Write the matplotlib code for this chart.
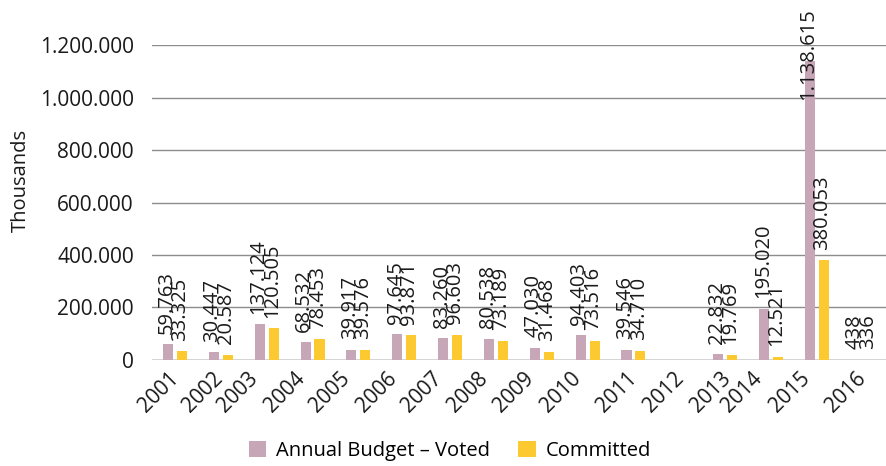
import numpy as np
import matplotlib
matplotlib.use("Agg")
import matplotlib.pyplot as plt
from matplotlib.transforms import ScaledTranslation, blended_transform_factory

plt.rcParams['font.family'] = ['Open Sans', 'DejaVu Sans']

years = ['2001', '2002', '2003', '2004', '2005', '2006', '2007', '2008',
         '2009', '2010', '2011', '2012', '2013', '2014', '2015', '2016']
voted = [59763, 30447, 137124, 68532, 39917, 97645, 83260, 80538,
         47030, 94403, 39546, np.nan, 22832, 195020, 1138615, 438]
committed = [33325, 20587, 120505, 78453, 39576, 93871, 96603, 73189,
             31468, 73516, 34710, np.nan, 19769, 12521, 380053, 336]
y_ticks = [0, 200000, 400000, 600000, 800000, 1000000, 1200000]

VOTED_COLOR = '#c6a6b7'
COMMITTED_COLOR = '#fdc930'
GRID_COLOR = '#8c8c8c'
TEXT_COLOR = '#1a1a1a'
VALUE_FS = 14.5

# small horizontal nudges (pixels) for the slanted year labels
label_nudge_px = [-7, -9, -19, -18, -19, -18, -19, -19, -18, -17, -7, -6, -5, -20, -17, -7]


def fmt(v):
    return f"{int(v):,}".replace(',', '.')


fig = plt.figure(figsize=(8.86, 4.66), dpi=100)
ax = fig.add_axes([0.1716, 0.2275, 0.828, 0.6759])

x = np.arange(len(years))
w = 0.22
off = 0.152
ax.bar(x - off, voted, width=w, color=VOTED_COLOR, label='Annual Budget – Voted', zorder=2)
ax.bar(x + off, committed, width=w, color=COMMITTED_COLOR, label='Committed', zorder=2)

ax.set_xlim(-0.5, len(years) - 0.5)
ax.set_ylim(0, 1200000)

fig_h_px = fig.get_figheight() * fig.dpi
lab_off = ScaledTranslation(0, 7.5 / 72, fig.dpi_scale_trans)
top_trans = blended_transform_factory(ax.transData, fig.transFigure)
# approximate length of a rotated label in pixels (Open Sans digit widths)
em_px = VALUE_FS * fig.dpi / 72


def value_label(xpos, val):
    s = fmt(val)
    length_px = em_px * (0.572 * sum(ch.isdigit() for ch in s) + 0.27 * s.count('.'))
    base_px = ax.transData.transform((xpos, val))[1] + 7.5 * fig.dpi / 72
    if base_px + length_px > fig_h_px - 8:
        # keep labels of tall bars inside the figure
        ax.text(xpos, 1 - 8 / fig_h_px, s, rotation=90, ha='center', va='top',
                fontsize=VALUE_FS, color=TEXT_COLOR, transform=top_trans,
                clip_on=False, zorder=3)
    else:
        ax.text(xpos, val, s, rotation=90, ha='center', va='bottom',
                fontsize=VALUE_FS, color=TEXT_COLOR, transform=ax.transData + lab_off,
                clip_on=False, zorder=3)


for xi, v, c in zip(x, voted, committed):
    if not np.isnan(v):
        value_label(xi - off - 0.03, v)
    if not np.isnan(c):
        value_label(xi + off - 0.04, c)

ax.set_yticks(y_ticks)
ax.set_yticklabels([fmt(t) for t in y_ticks], fontsize=15, color=TEXT_COLOR)
ax.yaxis.grid(True, color=GRID_COLOR, linewidth=1.0, zorder=0)
ax.set_axisbelow(True)
ax.tick_params(axis='y', length=0, pad=13)
ax.tick_params(axis='x', length=0, pad=6)
for s in ax.spines.values():
    s.set_visible(False)
ax.axhline(0, color=GRID_COLOR, linewidth=1.0, zorder=1)

ax.set_xticks(x)
ax.set_xticklabels(years, rotation=45, ha='right', rotation_mode='anchor',
                   fontsize=15, color=TEXT_COLOR)
for lbl, dx in zip(ax.get_xticklabels(), label_nudge_px):
    lbl.set_transform(lbl.get_transform() + ScaledTranslation(dx / 100, 0, fig.dpi_scale_trans))

ax.set_ylabel('Thousands', fontsize=14.5, color=TEXT_COLOR)
ax.yaxis.set_label_coords(-0.165, 0.571)

fig.legend(loc='lower center', bbox_to_anchor=(0.508, -0.028), ncol=2, frameon=False,
           fontsize=14.5, handlelength=0.85, handleheight=0.85, columnspacing=1.4,
           handletextpad=0.5)

fig.savefig('out.png', dpi=100)
